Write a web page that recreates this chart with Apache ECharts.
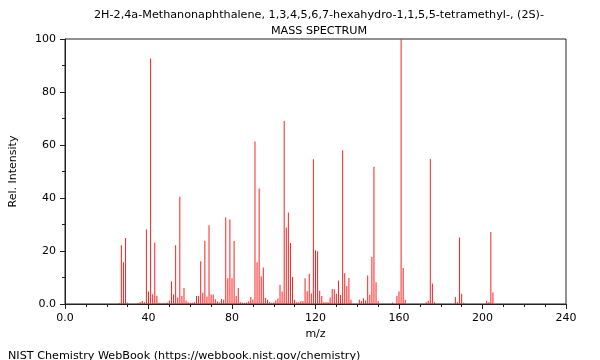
<!DOCTYPE html>
<html><head><meta charset="utf-8">
<script src="https://cdn.jsdelivr.net/npm/echarts@6/dist/echarts.min.js"></script>
<style>html,body{margin:0;padding:0;background:#fff}#c{width:600px;height:360px}</style>
</head><body><div id="c"></div>
<script>
var titleLine1 = "2H-2,4a-Methanonaphthalene, 1,3,4,5,6,7-hexahydro-1,1,5,5-tetramethyl-, (2S)-";
var titleLine2 = "MASS SPECTRUM";
var footer = "NIST Chemistry WebBook (https://webbook.nist.gov/chemistry)";
var xTicks = [0, 40, 80, 120, 160, 200, 240];
var yTicks = [0, 20, 40, 60, 80, 100];
var mz = [26,27,28,29,30,35,36,37,38,39,40,41,42,43,44,45,46,47,48,49,50,51,52,53,54,55,56,57,58,59,60,61,62,63,64,65,66,67,68,69,70,71,72,73,74,75,76,77,78,79,80,81,82,83,84,85,86,87,88,89,90,91,92,93,94,95,96,97,98,99,100,101,102,103,104,105,106,107,108,109,110,111,112,113,114,115,116,117,118,119,120,121,122,123,124,125,126,127,128,129,130,131,132,133,134,135,136,137,141,142,143,144,145,146,147,148,149,150,157,159,160,161,162,163,173,174,175,176,177,187,188,189,190,191,202,203,204,205];
var intensity = [0.3,22.2,15.8,24.9,0.5,0.4,0.7,1.1,0.7,28.1,4.7,92.6,3.7,23.2,3.1,0.5,0.3,0.3,0.3,0.5,1.3,8.6,3.6,22.2,2.5,40.5,3.0,6.0,1.3,0.7,0.5,0.5,0.7,3.0,3.0,16.1,4.2,23.9,2.8,29.7,3.6,3.6,1.8,0.9,0.6,1.9,1.6,32.6,9.7,31.9,9.7,23.8,3.0,6.0,0.7,0.5,0.5,0.6,0.9,2.6,1.7,61.3,15.8,43.6,10.5,13.8,2.4,1.6,0.7,0.5,0.6,1.3,2.1,7.3,4.7,69.1,28.9,34.5,23.0,10.2,1.6,0.7,0.7,1.0,1.0,9.7,4.8,11.4,4.0,54.6,20.3,19.9,5.0,3.0,0.7,0.7,0.7,2.5,5.7,5.6,3.9,8.9,3.4,58.0,11.6,6.8,9.8,1.6,1.6,1.1,2.2,1.3,10.8,3.5,17.7,51.8,8.2,1.1,0.6,3.0,4.7,100,13.6,1.6,0.7,1.2,54.7,7.7,0.7,2.6,0.7,25.1,3.9,0.5,1.1,0.7,27.2,4.3];

var data = mz.map(function(m, i){ return [m, intensity[i]]; });
var chart = echarts.init(document.getElementById('c'), null, {renderer:'canvas'});
var font = "DejaVu Sans";
var fmt = function(v){ return v === 0 ? "0.0" : String(v); };
chart.setOption({
  animation: false,
  textStyle: {fontFamily: font},
  title: [
    {text: titleLine1, left: 314, top: 5, textAlign: 'center',
     textStyle: {fontFamily: font, fontSize: 11.2, fontWeight: 'normal', color: '#000'}},
    {text: titleLine2, left: 314, top: 21, textAlign: 'center',
     textStyle: {fontFamily: font, fontSize: 11.2, fontWeight: 'normal', color: '#000'}},
    {text: footer, left: 3, top: 346,
     textStyle: {fontFamily: font, fontSize: 11.2, fontWeight: 'normal', color: '#000'}}
  ],
  grid: {left: 61, right: 34, top: 39, height: 265, show: true, borderColor: '#222', borderWidth: 1, backgroundColor: 'transparent'},
  xAxis: {
    type: 'value', min: xTicks[0], max: xTicks[xTicks.length-1], interval: 40,
    name: 'm/z', nameLocation: 'middle', nameGap: 25,
    nameTextStyle: {fontFamily: font, fontSize: 11, color: '#000'},
    axisLine: {show: true, lineStyle: {color: '#222'}},
    axisTick: {show: true, length: 5, lineStyle: {color: '#222'}},
    minorTick: {show: true, splitNumber: 4, length: 3, lineStyle: {color: '#222'}},
    splitLine: {show: false},
    axisLabel: {fontFamily: font, fontSize: 11, color: '#000', margin: 9, formatter: fmt}
  },
  yAxis: {
    type: 'value', min: yTicks[0], max: yTicks[yTicks.length-1], interval: 20,
    name: 'Rel. Intensity', nameLocation: 'middle', nameGap: 46, nameRotate: 90,
    nameTextStyle: {fontFamily: font, fontSize: 11, color: '#000'},
    axisLine: {show: true, lineStyle: {color: '#222'}},
    axisTick: {show: true, length: 5, lineStyle: {color: '#222'}},
    minorTick: {show: true, splitNumber: 2, length: 3, lineStyle: {color: '#222'}},
    splitLine: {show: false},
    axisLabel: {fontFamily: font, fontSize: 11, color: '#000', margin: 9, formatter: fmt}
  },
  series: [{
    type: 'bar', data: data, barWidth: 1, barGap: '-100%',
    itemStyle: {color: '#ff2020'}, silent: true
  }]
});
</script></body></html>
